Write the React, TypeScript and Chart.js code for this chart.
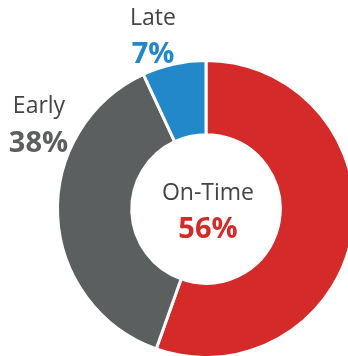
import React, { useEffect, useRef } from "react";
import { Chart, registerables } from "chart.js";

Chart.register(...registerables);

const categories = ["On-Time", "Early", "Late"];
const values = [56, 38, 7];
const valueLabels = ["56%", "38%", "7%"];
const colors = ["#D42B2A", "#5C5F60", "#2388C9"];

const FONT = "'Open Sans', 'Noto Sans', sans-serif";

const labelPlugin = {
  id: "labelPlugin",
  afterDraw(chart: any) {
    const ctx = chart.ctx;
    const arc = chart.getDatasetMeta(0).data[0];
    const cx = arc.x;
    const cy = arc.y;
    ctx.save();
    ctx.textAlign = "center";
    ctx.textBaseline = "alphabetic";
    // center label
    ctx.fillStyle = "#444444";
    ctx.font = `400 23px ${FONT}`;
    ctx.fillText(categories[0], cx + 2, cy - 9);
    ctx.fillStyle = colors[0];
    ctx.font = `700 29px ${FONT}`;
    ctx.fillText(valueLabels[0], cx + 2, cy + 29);
    // Early
    ctx.fillStyle = "#444444";
    ctx.font = `400 23px ${FONT}`;
    ctx.fillText(categories[1], 39, 113);
    ctx.fillStyle = colors[1];
    ctx.font = `700 29px ${FONT}`;
    ctx.fillText(valueLabels[1], 38.5, 152);
    // Late
    ctx.fillStyle = "#444444";
    ctx.font = `400 23px ${FONT}`;
    ctx.fillText(categories[2], 153, 25);
    ctx.fillStyle = colors[2];
    ctx.font = `700 29px ${FONT}`;
    ctx.fillText(valueLabels[2], 153, 62.5);
    ctx.restore();
  },
};

export default function App() {
  const ref = useRef<HTMLCanvasElement>(null);
  useEffect(() => {
    if (!ref.current) return;
    const chart = new Chart(ref.current, {
      type: "doughnut",
      data: {
        labels: categories,
        datasets: [
          {
            data: values,
            backgroundColor: colors,
            borderColor: "#ffffff",
            borderWidth: 3,
          },
        ],
      },
      options: {
        animation: false,
        responsive: true,
        maintainAspectRatio: false,
        radius: 148.5,
        cutout: "50%",
        rotation: 0,
        layout: { padding: { left: 64, top: 62, right: 0, bottom: 0 } },
        plugins: {
          legend: { display: false },
          tooltip: { enabled: false },
        },
        events: [],
      },
      plugins: [labelPlugin],
    });
    return () => chart.destroy();
  }, []);
  return (
    <div style={{ position: "fixed", left: 0, top: 0, width: 348, height: 356, background: "#fff" }}>
      <canvas ref={ref} />
    </div>
  );
}
